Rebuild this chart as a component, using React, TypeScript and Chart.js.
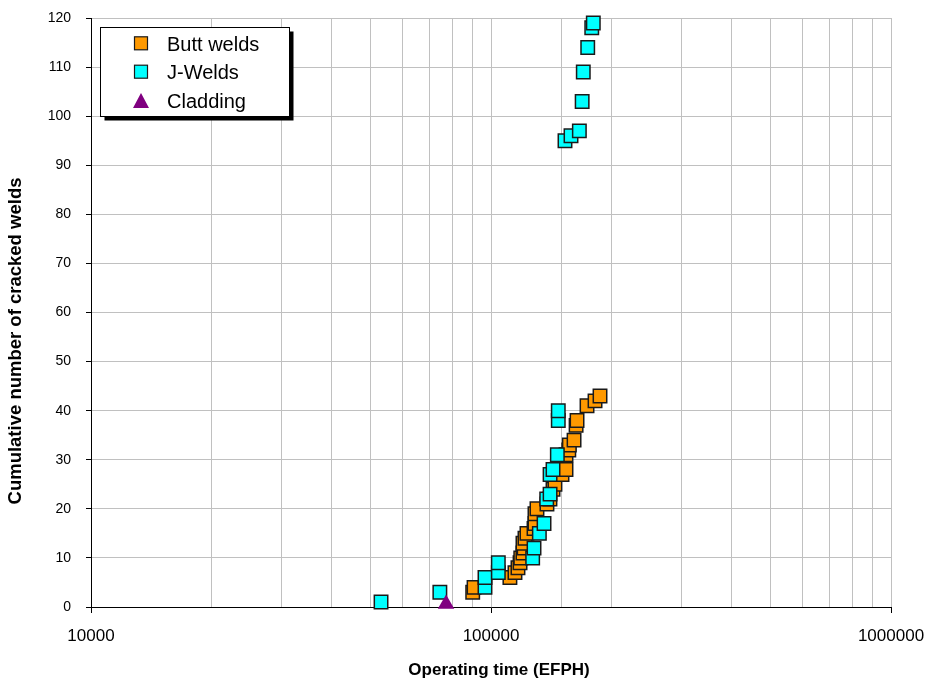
import React, { useEffect, useRef } from 'react';
import { Chart, registerables } from 'chart.js';

Chart.register(...registerables);

// ---- Data ----
const buttX = [90000, 90700, 111500, 114800, 116800, 118200, 118700, 120200, 121000, 120200, 121600, 123000, 128100, 128800, 128800, 130300, 138000, 140400, 142900, 144500, 150500, 154000, 154000, 156500, 157000, 161300, 163200, 164100, 173800, 182000, 187300];
const buttY = [3, 4, 6, 7, 8, 9, 10, 11, 12, 13, 14, 15, 16, 17, 19, 20, 21, 22, 24, 25, 27, 28, 31, 32, 33, 34, 37, 38, 41, 42, 43];

const jWeldX = [53100, 74500, 96600, 96600, 104300, 104300, 127100, 128100, 132100, 135700, 137800, 140500, 140500, 142900, 146500, 147300, 147300, 153100, 158500, 166300, 169000, 170100, 174500, 178600, 180200];
const jWeldY = [1, 3, 4, 6, 7, 9, 10, 12, 15, 17, 22, 23, 27, 28, 31, 38, 40, 95, 96, 97, 103, 109, 114, 118, 119];

const claddingX = [77200];
const claddingY = [0.6];

const seriesNames = ['Butt welds', 'J-Welds', 'Cladding'];
const seriesColors = ['#FF9900', '#00FFFF', '#800080'];
const xAxisTitle = 'Operating time (EFPH)';
const yAxisTitle = 'Cumulative number of cracked welds';
const xMin = 10000;
const xMax = 1000000;
const yMin = 0;
const yMax = 120;
const yStep = 10;

const toPoints = (xs: number[], ys: number[]) => xs.map((x, i) => ({ x, y: ys[i] }));

const isDecade = (v: number) => {
  const l = Math.log10(v);
  return Math.abs(l - Math.round(l)) < 1e-9;
};

const zeroPad = (scale: any) => {
  scale.paddingLeft = 0;
  scale.paddingRight = 0;
  scale.paddingTop = 0;
  scale.paddingBottom = 0;
};

const decorPlugin = {
  id: 'decor',
  afterDraw(chart: any) {
    const ctx = chart.ctx as CanvasRenderingContext2D;
    ctx.save();
    // Axis titles
    ctx.fillStyle = '#000';
    ctx.font = 'bold 17px Arial, "Liberation Sans", sans-serif';
    ctx.textAlign = 'center';
    ctx.textBaseline = 'middle';
    ctx.fillText(xAxisTitle, 499, 670);
    ctx.save();
    ctx.translate(16, 341);
    ctx.rotate(-Math.PI / 2);
    ctx.font = 'bold 18.5px Arial, "Liberation Sans", sans-serif';
    ctx.fillText(yAxisTitle, 0, 0);
    ctx.restore();

    // Legend box
    const bx = 100.5, by = 27.5, bw = 189, bh = 89;
    ctx.fillStyle = '#000';
    ctx.fillRect(bx + 4, by + 4, bw, bh);
    ctx.fillStyle = '#fff';
    ctx.fillRect(bx, by, bw, bh);
    ctx.strokeStyle = '#000';
    ctx.lineWidth = 1;
    ctx.strokeRect(bx, by, bw, bh);

    const rows = [43.3, 71.7, 101];
    const mx = 141;
    rows.forEach((cy, i) => {
      ctx.fillStyle = seriesColors[i];
      if (i < 2) {
        ctx.fillRect(mx - 6.5, cy - 6.5, 13, 13);
        ctx.strokeStyle = '#1a1a1a';
        ctx.lineWidth = 1.2;
        ctx.strokeRect(mx - 6.5, cy - 6.5, 13, 13);
      } else {
        ctx.beginPath();
        ctx.moveTo(mx, cy - 8);
        ctx.lineTo(mx + 8, cy + 7);
        ctx.lineTo(mx - 8, cy + 7);
        ctx.closePath();
        ctx.fill();
      }
      ctx.fillStyle = '#000';
      ctx.font = '20px Arial, "Liberation Sans", sans-serif';
      ctx.textAlign = 'left';
      ctx.textBaseline = 'alphabetic';
      ctx.fillText(seriesNames[i], 167, cy + 7.2);
    });
    ctx.restore();
  },
};

export default function App() {
  const canvasRef = useRef<HTMLCanvasElement | null>(null);

  useEffect(() => {
    if (!canvasRef.current) return;
    const chart = new Chart(canvasRef.current, {
      type: 'scatter',
      data: {
        datasets: [
          {
            label: seriesNames[0],
            data: toPoints(buttX, buttY),
            pointStyle: 'rect',
            pointRadius: 9.5,
            pointHoverRadius: 9.5,
            backgroundColor: seriesColors[0],
            borderColor: '#1a1a1a',
            borderWidth: 1.5,
            order: 3,
            clip: false,
          },
          {
            label: seriesNames[1],
            data: toPoints(jWeldX, jWeldY),
            pointStyle: 'rect',
            pointRadius: 9.5,
            pointHoverRadius: 9.5,
            backgroundColor: seriesColors[1],
            borderColor: '#1a1a1a',
            borderWidth: 1.5,
            order: 2,
            clip: false,
          },
          {
            label: seriesNames[2],
            data: toPoints(claddingX, claddingY),
            pointStyle: 'triangle',
            pointRadius: 9.5,
            pointHoverRadius: 9.5,
            backgroundColor: seriesColors[2],
            borderColor: seriesColors[2],
            borderWidth: 0,
            order: 1,
            clip: false,
          },
        ],
      },
      options: {
        animation: false,
        responsive: true,
        maintainAspectRatio: false,
        layout: { padding: { top: 18, right: 37, left: 0, bottom: 0 } },
        plugins: {
          legend: { display: false },
          tooltip: { enabled: false },
          title: { display: false },
        },
        scales: {
          x: {
            type: 'logarithmic',
            min: xMin,
            max: xMax,
            afterFit: (scale: any) => {
              scale.height = 72;
              zeroPad(scale);
            },
            grid: {
              color: '#c0c0c0',
              lineWidth: 1,
              drawTicks: true,
              tickLength: 6,
              tickColor: (c: any) => (c.tick && isDecade(c.tick.value) ? '#000' : 'rgba(0,0,0,0)'),
            },
            border: { color: '#000', width: 1 },
            ticks: {
              autoSkip: false,
              maxRotation: 0,
              minRotation: 0,
              padding: 13,
              color: '#000',
              font: { family: 'Arial, "Liberation Sans", sans-serif', size: 17 },
              callback: (v: any) => (isDecade(Number(v)) ? String(Math.round(Number(v))) : ''),
            },
          },
          y: {
            type: 'linear',
            min: yMin,
            max: yMax,
            afterFit: (scale: any) => {
              scale.width = 91;
              zeroPad(scale);
            },
            grid: {
              color: '#c0c0c0',
              lineWidth: 1,
              drawTicks: true,
              tickLength: 5,
              tickColor: '#000',
            },
            border: { color: '#000', width: 1 },
            ticks: {
              stepSize: yStep,
              padding: 15,
              color: '#000',
              font: { family: '"Liberation Sans Narrow", "Arial Narrow", Arial, sans-serif', size: 14 },
            },
          },
        },
      },
      plugins: [decorPlugin],
    });
    return () => chart.destroy();
  }, []);

  return (
    <div style={{ position: 'absolute', left: 0, top: 0, width: 928, height: 679, background: '#fff' }}>
      <canvas ref={canvasRef} />
    </div>
  );
}
